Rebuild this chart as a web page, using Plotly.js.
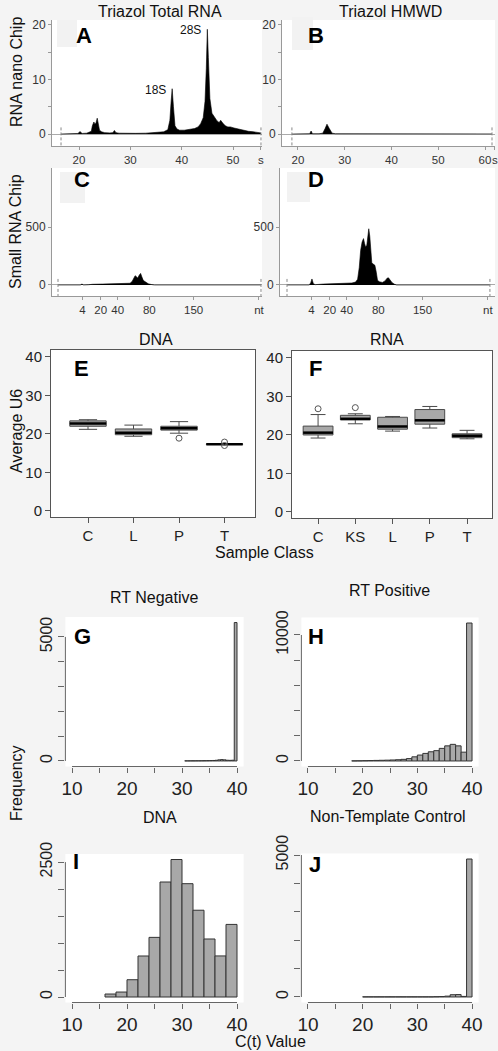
<!DOCTYPE html>
<html><head><meta charset="utf-8">
<script src="https://cdn.plot.ly/plotly-3.0.1.min.js"></script>
<style>html,body{margin:0;padding:0;background:#f4f4f4;}#chart{width:498px;height:1051px;}</style>
</head><body><div id="chart"></div>
<script>
// ---------- Electropherograms ----------
// A: Triazol Total RNA, RNA nano chip (time in s, fluorescence)
const timeA = [16.5, 18.0, 19.0, 19.8, 20.2, 20.6, 21.5, 22.1, 22.4, 22.6,
  22.9, 23.1, 23.3, 23.55, 23.75, 24.0, 24.4, 25.0, 26.0, 26.6,
  26.9, 27.2, 27.8, 29.0, 31.0, 33.0, 35.0, 36.5, 37.3, 37.7,
  37.95, 38.15, 38.4, 38.7, 39.1, 39.6, 40.5, 41.5, 42.5, 43.2,
  43.7, 44.2, 44.55, 44.8, 45.0, 45.2, 45.5, 45.9, 46.4, 46.9,
  47.3, 47.6, 48.0, 48.5, 49.0, 49.5, 50.2, 51.0, 52.0, 53.0,
  54.0, 55.0, 55.45];
const fluorA = [0, 0.05, 0.08, 0.1, 0.45, 0.1, 0.15, 0.3, 0.5, 1.5,
  2.2, 1.8, 2.0, 2.9, 1.5, 0.7, 0.4, 0.25, 0.2, 0.25,
  0.65, 0.25, 0.15, 0.1, 0.12, 0.15, 0.25, 0.4, 0.8, 2.5,
  6.0, 8.3, 5.0, 1.5, 0.9, 0.7, 0.7, 0.8, 1.0, 1.3,
  1.9, 3.0, 6.0, 12.0, 19.2, 14.0, 6.5, 3.8, 3.0, 2.4,
  2.1, 2.5, 2.0, 1.5, 1.3, 1.3, 1.1, 0.9, 0.7, 0.5,
  0.4, 0.25, 0.2];
const peakLabelsA = ['18S', '28S'];
const peakTimesA = [38.15, 45.0];
const peakHeightsA = [8.3, 19.2];
// B: Triazol HMWD, RNA nano chip
const timeB = [18.7, 20, 22.0, 22.5, 22.8, 23.1, 24.5, 25.3, 25.8, 26.2, 26.7, 27.3, 28.0, 35, 45, 55, 61.5];
const fluorB = [0, 0.02, 0.03, 0.05, 0.55, 0.05, 0.05, 0.15, 1.0, 1.8, 1.0, 0.15, 0.05, 0.03, 0.03, 0.05, 0.02];
// C: Triazol Total RNA, small RNA chip (relative migration time)
const timeC = [0, 11.0, 11.8, 12.6, 15.0, 17.0, 22.0, 28.0, 33.0, 35.5,
  36.5, 37.3, 38.0, 38.6, 39.3, 40.0, 40.7, 41.3, 42.0, 42.8,
  43.7, 44.5, 46.0, 47.5, 100];
const fluorC = [0, 0, 8, 0, 2, 6, 8, 10, 12, 15,
  30, 65, 80, 72, 60, 85, 100, 70, 40, 30,
  20, 10, 4, 0, 0];
// D: Triazol HMWD, small RNA chip
const timeD = [0, 11.0, 11.7, 12.3, 13.0, 14.0, 18.0, 24.0, 29.0, 32.0,
  33.8, 34.8, 35.6, 36.3, 37.0, 37.7, 38.2, 38.7, 39.3, 39.8,
  40.3, 40.8, 41.3, 41.8, 42.5, 43.3, 44.0, 44.6, 45.5, 47.0,
  48.3, 49.3, 50.0, 50.8, 51.8, 53.0, 54.0, 100];
const fluorD = [0, 0, 20, 52, 10, 3, 8, 12, 14, 17,
  25, 50, 150, 300, 370, 400, 360, 330, 340, 430,
  485, 420, 280, 190, 180, 170, 110, 40, 28, 22,
  35, 58, 62, 45, 20, 6, 0, 0];
// alignment markers (dashed)
const markersA = [16.5, 55.45];
const markersB = [18.7, 61.5];
const markersC = [0, 100];
const markersD = [0, 100];
// tick labels
const nanoTickA = [20, 30, 40, 50, 55.45];
const nanoTickTextA = ['20', '30', '40', '50', 's'];
const nanoTickB = [20, 30, 40, 50, 60, 62.1];
const nanoTickTextB = ['20', '30', '40', '50', '60', 's'];
const nanoYTicks = [0, 5, 10, 15, 20];
const nanoYText = ['0', '', '10', '', '20'];
const smallTickPos = [12, 21, 29.4, 45, 66.8, 99];
const smallTickText = ['4', '20', '40', '80', '150', 'nt'];
const smallYTicks = [0, 500];

// ---------- Boxplots: Average U6 ----------
const dnaClasses = ['C', 'L', 'P', 'T'];
const dnaLow = [21.2, 19.4, 20.2, 17.3];
const dnaQ1 = [22.0, 19.8, 21.0, 17.3];
const dnaMedian = [22.7, 20.3, 21.5, 17.35];
const dnaQ3 = [23.4, 21.3, 22.0, 17.4];
const dnaHigh = [23.7, 22.3, 23.2, 17.4];
const dnaOutClass = ['P', 'T', 'T'];
const dnaOutVal = [18.9, 17.9, 17.0];

const rnaClasses = ['C', 'KS', 'L', 'P', 'T'];
const rnaLow = [19.2, 22.9, 21.0, 21.8, 19.0];
const rnaQ1 = [20.0, 23.9, 21.5, 22.8, 19.3];
const rnaMedian = [20.6, 24.2, 22.2, 23.8, 19.8];
const rnaQ3 = [22.3, 25.1, 24.6, 26.6, 20.3];
const rnaHigh = [25.3, 25.5, 24.8, 27.4, 21.2];
const rnaOutClass = ['C', 'KS'];
const rnaOutVal = [26.8, 27.1];
const u6Ticks = [0, 10, 20, 30, 40];

// ---------- Histograms: C(t) values ----------
const rtNegEdges = [30.5, 31, 31.5, 32, 32.5, 33, 33.5, 34, 34.5, 35, 35.5, 36, 36.5, 37, 37.5, 38, 38.5, 39, 39.5, 40];
const rtNegCounts = [5, 5, 6, 6, 8, 8, 10, 12, 14, 16, 20, 28, 45, 55, 45, 30, 25, 30, 5580];
const rtPosEdges = [18, 19, 20, 21, 22, 23, 24, 25, 26, 27, 28, 29, 30, 31, 32, 33, 34, 35, 36, 37, 38, 39, 40];
const rtPosCounts = [10, 15, 25, 35, 45, 55, 65, 80, 100, 130, 190, 330, 470, 600, 730, 820, 1000, 1200, 1320, 1200, 700, 10950];
const dnaEdges = [16, 18, 20, 22, 24, 26, 28, 30, 32, 34, 36, 38, 40];
const dnaCounts = [55, 92, 320, 760, 1105, 2131, 2548, 2100, 1608, 1075, 761, 1345];
const ntcEdges = [20, 21, 22, 23, 24, 25, 26, 27, 28, 29, 30, 31, 32, 33, 34, 35, 36, 37, 38, 39, 40];
const ntcCounts = [5, 5, 5, 5, 5, 5, 5, 5, 5, 5, 5, 5, 5, 10, 15, 30, 80, 85, 20, 4860];
const ctTicks = [10, 15, 20, 25, 30, 35, 40];
const ctTickText = ['10', '', '20', '', '30', '', '40'];
const yTicksG = [0, 1000, 2000, 3000, 4000, 5000];
const yTicksH = [0, 2000, 4000, 6000, 8000, 10000];
const yTicksI = [0, 500, 1000, 1500, 2000, 2500];
const yTicksJ = [0, 1000, 2000, 3000, 4000, 5000];

// ================= building =================
const FONT = '"Liberation Sans", Arial, Helvetica, sans-serif';
const W = 498, H = 1051;
const fx = p => p / W;
const fy = p => 1 - p / H;
const dX = (a, b) => [fx(a), fx(b)];
const dY = (top, bot) => [fy(bot), fy(top)];
const sfx = n => (n === 1 ? '' : String(n));

const layout = {
  width: W, height: H, margin: {l: 0, r: 0, t: 0, b: 0, pad: 0},
  paper_bgcolor: '#f4f4f4', plot_bgcolor: '#ffffff', showlegend: false,
  font: {family: FONT, color: '#222'}, annotations: [], shapes: []
};
const traces = [];

function epPanel(n, xd, xr, xtv, xtt, yd, yr, ytv, ytt, t, v, markers) {
  layout['xaxis' + sfx(n)] = {domain: xd, range: xr, anchor: 'y' + sfx(n), tickmode: 'array',
    tickvals: xtv, ticktext: xtt, tickangle: 0, ticks: 'outside', ticklen: 3, tickcolor: '#999',
    showline: true, linecolor: '#999', linewidth: 1, showgrid: false, zeroline: false,
    tickfont: {size: 11.5, color: '#333'}, fixedrange: true};
  layout['yaxis' + sfx(n)] = {domain: yd, range: yr, anchor: 'x' + sfx(n), tickmode: 'array',
    tickvals: ytv, ticktext: ytt, tickangle: 0, ticks: 'outside', ticklen: 3, tickcolor: '#999',
    showline: true, linecolor: '#999', linewidth: 1, showgrid: false,
    zeroline: true, zerolinecolor: '#aaaaaa', zerolinewidth: 1,
    tickfont: {size: 12, color: '#333'}, fixedrange: true};
  traces.push({type: 'scatter', mode: 'lines', x: t, y: v, fill: 'tozeroy', fillcolor: '#000',
    line: {color: '#000', width: 0.6}, xaxis: 'x' + sfx(n), yaxis: 'y' + sfx(n), hoverinfo: 'skip'});
  markers.forEach(m => traces.push({type: 'scatter', mode: 'lines', x: [m, m], y: [-0.55 * yr[0], yr[0]],
    line: {color: '#888', width: 1, dash: '3px,2px'}, xaxis: 'x' + sfx(n), yaxis: 'y' + sfx(n), hoverinfo: 'skip'}));
}

epPanel(1, dX(52, 262), [14.74, 55.65], nanoTickA, nanoTickTextA, dY(20, 146), [-2.2, 20.9], nanoYTicks, nanoYText, timeA, fluorA, markersA);
epPanel(2, dX(282, 495), [16.58, 62.14], nanoTickB, nanoTickTextB, dY(20, 146), [-2.2, 20.9], nanoYTicks, nanoYText, timeB, fluorB, markersB);
epPanel(3, dX(52, 262), [-2.96, 100.5], smallTickPos, smallTickText, dY(168, 296), [-95, 1009], smallYTicks, smallYTicks.map(String), timeC, fluorC, markersC);
epPanel(4, dX(280, 495), [-3.45, 102.5], smallTickPos, smallTickText, dY(168, 296), [-95, 1009], smallYTicks, smallYTicks.map(String), timeD, fluorD, markersD);

// peak labels 18S / 28S
peakLabelsA.forEach((lab, i) => layout.annotations.push({text: lab, x: peakTimesA[i], y: peakHeightsA[i],
  xref: 'x', yref: 'y', showarrow: false, xanchor: 'right', yanchor: 'middle', xshift: -4, yshift: -1,
  font: {family: FONT, size: 12, color: '#111'}}));

// letter backdrop patches
[[57, 20, 77, 47], [292, 17, 313, 50], [60, 172, 85, 203], [287, 172, 310, 202]].forEach(r =>
  layout.shapes.push({type: 'rect', xref: 'paper', yref: 'paper', x0: fx(r[0]), x1: fx(r[2]), y0: fy(r[3]), y1: fy(r[1]),
    fillcolor: '#f2f2f2', line: {width: 0}, layer: 'above'}));

function boxPanel(n, xd, xr, yd, cats, low, q1, med, q3, high, outCls, outVal) {
  const pos = cats.map((c, i) => i + 1);
  layout['xaxis' + n] = {domain: xd, range: xr, anchor: 'y' + n, tickmode: 'array', tickvals: pos, ticktext: cats,
    ticks: 'outside', ticklen: 5, tickcolor: '#555', showline: true, mirror: true, linecolor: '#555', linewidth: 1,
    showgrid: false, zeroline: false, tickfont: {size: 15, color: '#222'}, fixedrange: true};
  layout['yaxis' + n] = {domain: yd, range: [-1.56, 41.8], anchor: 'x' + n, tickmode: 'array', tickvals: u6Ticks,
    ticks: 'outside', ticklen: 5, tickcolor: '#555', showline: true, mirror: true, linecolor: '#555', linewidth: 1,
    showgrid: false, zeroline: false, tickfont: {size: 15, color: '#222'}, fixedrange: true};
  traces.push({type: 'box', x: pos, q1: q1, median: med, q3: q3, lowerfence: low, upperfence: high,
    width: 0.8, whiskerwidth: 0.5, fillcolor: '#a8a8a8', line: {color: '#4a4a4a', width: 1},
    boxpoints: false, xaxis: 'x' + n, yaxis: 'y' + n, hoverinfo: 'skip'});
  const mx = [], my = [];
  pos.forEach((p, i) => { mx.push(p - 0.4, p + 0.4, null); my.push(med[i], med[i], null); });
  traces.push({type: 'scatter', mode: 'lines', x: mx, y: my, line: {color: '#000', width: 2.5},
    xaxis: 'x' + n, yaxis: 'y' + n, hoverinfo: 'skip'});
  traces.push({type: 'scatter', mode: 'markers', x: outCls.map(c => cats.indexOf(c) + 1), y: outVal,
    marker: {symbol: 'circle-open', size: 6, color: '#555', line: {width: 1}}, xaxis: 'x' + n, yaxis: 'y' + n, hoverinfo: 'skip'});
}
boxPanel(5, dX(51, 255), [0.187, 4.67], dY(350, 517), dnaClasses, dnaLow, dnaQ1, dnaMedian, dnaQ3, dnaHigh, dnaOutClass, dnaOutVal);
boxPanel(6, dX(292, 492), [0.30, 5.67], dY(351, 518), rnaClasses, rnaLow, rnaQ1, rnaMedian, rnaQ3, rnaHigh, rnaOutClass, rnaOutVal);

function histPanel(n, xd, yd, edges, counts, yticks) {
  const M = Math.max(...counts);
  const centers = counts.map((c, i) => (edges[i] + edges[i + 1]) / 2);
  const widths = counts.map((c, i) => edges[i + 1] - edges[i]);
  layout['xaxis' + n] = {domain: xd, range: [8.8, 41.2], anchor: 'y' + n, tickmode: 'array', tickvals: ctTicks, ticktext: ctTickText,
    tickangle: 0, ticks: 'outside', ticklen: 5, tickcolor: '#666', showline: false, showgrid: false, zeroline: false,
    tickfont: {size: 19, color: '#222'}, fixedrange: true};
  layout['yaxis' + n] = {domain: yd, range: [-0.04 * M, 1.04 * M], anchor: 'x' + n, tickmode: 'array', tickvals: yticks,
    ticktext: yticks.map((v, i) => (i === 0 || i === yticks.length - 1) ? String(v) : ''), tickangle: -90,
    ticks: 'outside', ticklen: 6, tickcolor: '#666', showline: false, showgrid: false, zeroline: false,
    tickfont: {size: 16, color: '#222'}, fixedrange: true};
  traces.push({type: 'bar', x: centers, y: counts, width: widths, marker: {color: '#a8a8a8', line: {color: '#333', width: 1}},
    xaxis: 'x' + n, yaxis: 'y' + n, hoverinfo: 'skip'});
  layout.shapes.push({type: 'line', xref: 'x' + n, yref: 'y' + n + ' domain', x0: ctTicks[0], x1: ctTicks[ctTicks.length - 1], y0: 0, y1: 0,
    line: {color: '#666', width: 1}});
  layout.shapes.push({type: 'line', xref: 'x' + n + ' domain', yref: 'y' + n, x0: 0, x1: 0, y0: yticks[0], y1: yticks[yticks.length - 1],
    line: {color: '#666', width: 1}});
}
histPanel(7, dX(65.4, 243.6), dY(617, 766.5), rtNegEdges, rtNegCounts, yTicksG);
histPanel(8, dX(301.4, 478.6), dY(617.5, 766.5), rtPosEdges, rtPosCounts, yTicksH);
histPanel(9, dX(65.4, 243.6), dY(854, 1002.5), dnaEdges, dnaCounts, yTicksI);
histPanel(10, dX(301.4, 478.6), dY(853.5, 1002.5), ntcEdges, ntcCounts, yTicksJ);
layout.bargap = 0;

function txt(text, x, y, size, extra) {
  layout.annotations.push(Object.assign({text: text, x: fx(x), y: fy(y), xref: 'paper', yref: 'paper', showarrow: false,
    xanchor: 'center', yanchor: 'middle', font: {family: FONT, size: size, color: '#111'}}, extra || {}));
}
// titles
txt('Triazol Total RNA', 160, 12, 16);
txt('Triazol HMWD', 390, 12, 16);
txt('DNA', 156, 339, 16);
txt('RNA', 387, 339, 16);
txt('RT Negative', 154, 597, 16);
txt('RT Positive', 389, 590, 16);
txt('DNA', 160, 817, 16);
txt('Non-Template Control', 388, 816, 16);
// axis labels
txt('RNA nano Chip', 16, 72, 16, {textangle: -90});
txt('Small RNA Chip', 16, 232, 16, {textangle: -90});
txt('Average U6', 16, 431, 16, {textangle: -90});
txt('Frequency', 16, 783, 16, {textangle: -90});
txt('Sample Class', 264, 552, 16);
txt('C(t) Value', 270, 1041, 16);
// panel letters
[['A', 84, 35], ['B', 316, 35], ['C', 82, 179], ['D', 316, 180], ['E', 81, 369], ['F', 315, 369],
 ['G', 82, 636], ['H', 316, 636], ['I', 76, 861], ['J', 315, 864]].forEach(l =>
  txt('<b>' + l[0] + '</b>', l[1], l[2], 22, {font: {family: FONT, size: 22, color: '#000'}}));

Plotly.newPlot('chart', traces, layout, {displayModeBar: false, staticPlot: true});
</script>
</body></html>
